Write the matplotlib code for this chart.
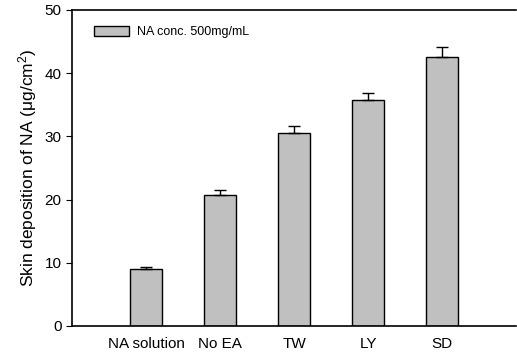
import matplotlib
matplotlib.use("Agg")
import matplotlib.pyplot as plt
import numpy as np

plt.rcParams["font.family"] = ["Liberation Sans", "DejaVu Sans"]
plt.rcParams["mathtext.fontset"] = "custom"
plt.rcParams["mathtext.rm"] = "Liberation Sans"
plt.rcParams["mathtext.default"] = "regular"

categories = ["NA solution", "No EA", "TW", "LY", "SD"]
values = [9.0, 20.7, 30.5, 35.8, 42.5]
errors = [0.35, 0.8, 1.2, 1.1, 1.6]

fig = plt.figure(figsize=(5.17, 3.52), dpi=100)
ax = fig.add_axes([0.139, 0.074, 0.86, 0.898])

x = np.arange(len(categories))
ax.bar(x, values, width=0.43, color="#c0c0c0", edgecolor="black", linewidth=1.0,
       label="NA conc. 500mg/mL", zorder=2)
ax.errorbar(x, values, yerr=[np.zeros(len(errors)), errors], fmt="none",
            ecolor="black", elinewidth=1.0, capsize=4, capthick=1.0, zorder=3)

ax.set_xlim(-1, 5)
ax.set_ylim(0, 50)
ax.set_yticks([0, 10, 20, 30, 40, 50])
ax.set_xticks(x)
ax.set_xticklabels(categories, fontsize=11)
ax.tick_params(axis="x", length=0, pad=8)
ax.tick_params(axis="y", direction="out", length=4, labelsize=11)
ax.spines["right"].set_visible(False)
for s in ["left", "bottom", "top"]:
    ax.spines[s].set_linewidth(1.2)

ax.set_ylabel("Skin deposition of NA (\u03bcg/cm$^{2}$)", fontsize=12.5)

ax.legend(loc="upper left", bbox_to_anchor=(0.025, 0.985), frameon=False,
          fontsize=9, handlelength=2.8, handleheight=0.9, handletextpad=0.6)

fig.savefig("out.png", dpi=100)
